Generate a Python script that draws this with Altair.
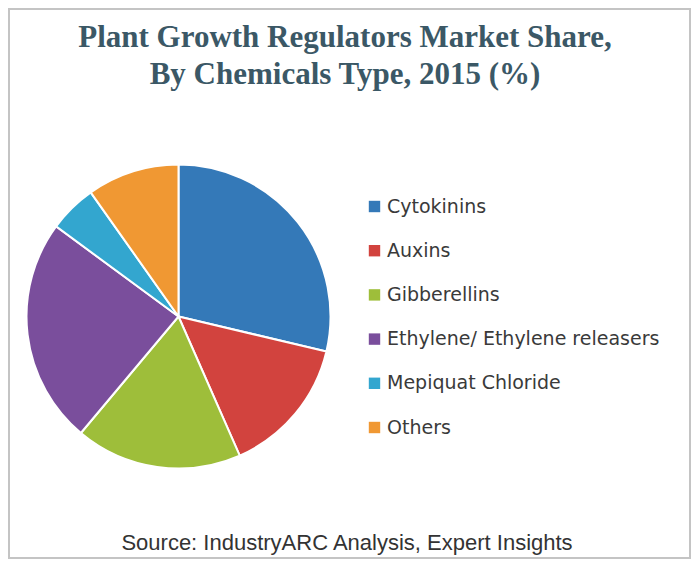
import altair as alt
import pandas as pd

# ---- data ----
categories = ["Cytokinins", "Auxins", "Gibberellins",
              "Ethylene/ Ethylene releasers", "Mepiquat Chloride", "Others"]
shares = [28.7, 14.7, 17.7, 24.0, 5.1, 9.8]
colors = ["#3479B8", "#D2433E", "#9EBE3A", "#7A4E9C", "#33A6CF", "#F09833"]

title_lines = ["Plant Growth Regulators Market Share,",
               "By Chemicals Type, 2015 (%)"]
source_text = "Source: IndustryARC Analysis, Expert Insights"

df = pd.DataFrame({"category": categories, "share": shares,
                   "idx": list(range(len(categories)))})

W, H = 683, 551

frame = alt.Chart(alt.Data(values=[{}])).mark_rect(
    fill=None, stroke="#c4c4c4", strokeWidth=2
).encode(x=alt.value(1), x2=alt.value(W - 1), y=alt.value(1), y2=alt.value(H - 1))

pie = alt.Chart(df).mark_arc(outerRadius=152, stroke="white", strokeWidth=2).encode(
    theta=alt.Theta("share:Q", stack=True),
    order=alt.Order("idx:Q"),
    color=alt.Color(
        "category:N",
        scale=alt.Scale(domain=categories, range=colors),
        sort=categories,
        legend=alt.Legend(
            title=None, orient="none", legendX=357, legendY=189,
            symbolType="square", symbolSize=130, symbolStrokeWidth=0,
            labelFont="DejaVu Sans", labelFontSize=19, labelColor="#3a3a3a",
            rowPadding=24.2, labelOffset=3, labelLimit=400,
        ),
    ),
    x=alt.value(170.5), y=alt.value(308.5),
)

title = alt.Chart(alt.Data(values=[{}])).mark_text(
    font="Liberation Serif", fontWeight="bold", fontSize=31, color="#3b5866",
    align="center", baseline="alphabetic", lineHeight=37,
).encode(x=alt.value(337), y=alt.value(39), text=alt.value(title_lines))

source = alt.Chart(alt.Data(values=[{}])).mark_text(
    font="Liberation Sans", fontSize=22, color="#333333",
    align="center", baseline="middle",
).encode(x=alt.value(339), y=alt.value(535), text=alt.value(source_text))

chart = alt.layer(frame, pie, title, source).properties(
    width=W, height=H, autosize="none", padding=0
).configure_view(stroke=None)

chart.save("out.html", embed_options={"renderer": "svg", "actions": False})
